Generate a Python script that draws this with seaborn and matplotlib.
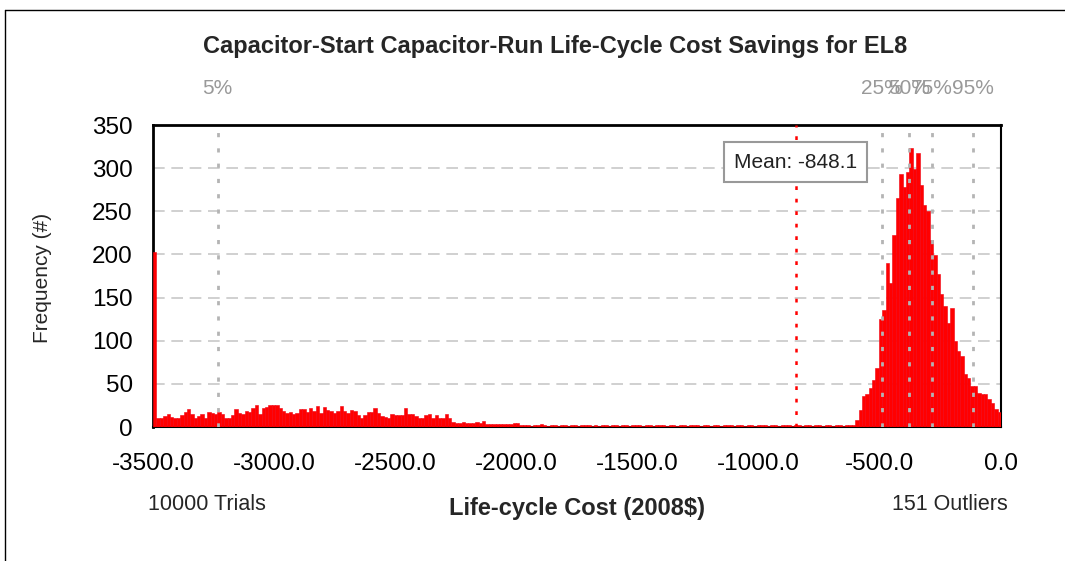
import numpy as np
import pandas as pd
import seaborn as sns
import matplotlib.pyplot as plt
from matplotlib.lines import Line2D
from matplotlib.transforms import blended_transform_factory

# histogram range (250 bins of 14$ from -3500 to 0)
x_min, x_max, n_bins = -3500.0, 0.0, 250

# bar heights, left to right
spike = [203]
left_plateau = [10, 11, 13, 15, 12, 10, 10, 14, 17, 21, 15, 11, 13, 15, 11, 17, 16, 15, 17, 15,
                11, 10, 14, 21, 16, 15, 19, 17, 22,
                25, 15, 22, 23, 25, 25, 25, 22, 18, 16, 17, 15, 16, 21, 21, 17, 22, 18, 24, 16,
                23, 20, 18, 16, 18, 24, 19, 16, 20, 18, 14,
                11, 14, 17, 17, 22, 16, 13, 12, 10, 15, 14, 14, 14, 22, 15, 15, 13, 10, 11, 14,
                15, 11, 14, 11, 10, 15, 11, 6, 5, 5, 6, 5]
left_tail = [5, 5, 6, 5, 7, 4, 4, 4, 3, 4, 4, 3, 4, 5, 5, 2, 2, 2, 1, 2, 2, 4]
middle_floor = [2, 1, 2, 2, 1, 2, 2, 1, 2, 2, 1, 2, 2, 2, 1, 2, 1, 2, 2, 1,
                2, 2, 1, 2, 2, 1, 2, 2, 2, 1, 2, 2, 1, 2, 2, 2, 1, 2, 2, 1,
                2, 2, 1, 2, 2, 2, 1, 2, 2, 1, 2, 2, 1, 2, 2, 2, 1, 2, 2, 1,
                2, 2, 1, 2, 2, 2, 1, 2, 2, 1, 2, 2, 2, 1, 2, 2, 1, 2, 2, 1,
                2, 2, 1, 2, 2, 1, 2, 2, 1, 2, 2, 2]
peak = [8, 20, 36, 38, 45, 55, 68, 125, 136, 190, 167, 222, 265, 293, 278,
        296, 323, 299, 318, 280, 257, 250, 217, 199, 177, 154, 140, 120, 138, 100,
        88, 82, 61, 57, 48, 48, 39, 38, 38, 33, 28, 21, 17]

pct_labels = ['5%', '25%', '50%', '75%', '95%']
pct_values = [-3233, -492, -378, -286, -114]
mean_value = -848.1
n_trials = 10000
n_outliers = 151

counts = spike + left_plateau + left_tail + middle_floor + peak
bin_w = (x_max - x_min) / n_bins
centers = x_min + bin_w * (np.arange(n_bins) + 0.5)
df = pd.DataFrame({'cost': centers, 'count': counts})

sns.set_style('white')
plt.rcParams['font.family'] = ['Liberation Sans', 'DejaVu Sans']

fig = plt.figure(figsize=(10.65, 5.61), dpi=100)
ax = fig.add_axes([153 / 1065, 1 - 427 / 561, 848 / 1065, 302 / 561])

# horizontal grid
for yv in range(50, 351, 50):
    ax.axhline(yv, color='#c8c8c8', lw=1.2, dashes=(7, 4), zorder=0)

sns.histplot(data=df, x='cost', weights='count', binwidth=bin_w, binrange=(x_min, x_max),
             color='#ff0000', alpha=1, edgecolor='#f00010', linewidth=0.4, ax=ax, zorder=3)

# percentile lines and labels
trans = blended_transform_factory(ax.transData, ax.transAxes)
for lab, v in zip(pct_labels, pct_values):
    ax.axvline(v, color='#b4b4b4', lw=2, dashes=(1.5, 4), zorder=4)
    ax.text(v, 1.122, lab, transform=trans, ha='center', va='center',
            color='#999999', fontsize=15)

# mean line and box
ax.axvline(mean_value, color='#ff0000', lw=1.8, dashes=(1.5, 3.5), zorder=4)
ax.text(mean_value, 307, f'Mean: {mean_value}', ha='center', va='center', fontsize=15,
        color='#222222', zorder=5,
        bbox=dict(boxstyle='square,pad=0.5', fc='white', ec='#999999', lw=1.5))

ax.set_xlim(x_min, x_max)
ax.set_ylim(0, 350)
ax.set_xticks(np.arange(-3500, 1, 500))
ax.set_xticklabels([f'{t:.1f}' for t in np.arange(-3500, 1, 500)])
ax.set_yticks(np.arange(0, 351, 50))
ax.tick_params(axis='both', direction='out', length=5.5, width=1, color='#555555',
               labelsize=17.5, labelcolor='black')
ax.tick_params(axis='x', pad=13)
ax.tick_params(axis='y', pad=9)
ax.set_xlabel('')
ax.set_ylabel('')
for side in ['top', 'left']:
    ax.spines[side].set_linewidth(2)
for side in ['bottom', 'right']:
    ax.spines[side].set_linewidth(1.5)
for s in ax.spines.values():
    s.set_color('black')

# figure texts
fig.text(555 / 1065, 1 - 47 / 561, 'Capacitor-Start Capacitor-Run Life-Cycle Cost Savings for EL8',
         ha='center', va='center', fontsize=17, fontweight='bold')
fig.text(577 / 1065, 1 - 508 / 561, 'Life-cycle Cost (2008$)', ha='center', va='center',
         fontsize=17, fontweight='bold')
fig.text(43 / 1065, 1 - 278 / 561, 'Frequency (#)', ha='center', va='center',
         fontsize=15, rotation=90)
fig.text(207 / 1065, 1 - 505 / 561, f'{n_trials} Trials', ha='center', va='center', fontsize=15.5)
fig.text(950 / 1065, 1 - 505 / 561, f'{n_outliers} Outliers', ha='center', va='center', fontsize=15.5)

# outer frame
fig.add_artist(Line2D([5 / 1065, 5 / 1065], [0, 1 - 10 / 561], transform=fig.transFigure,
                      color='black', lw=1))
fig.add_artist(Line2D([5 / 1065, 1], [1 - 10 / 561, 1 - 10 / 561], transform=fig.transFigure,
                      color='black', lw=1))

fig.savefig('out.png', dpi=100)
